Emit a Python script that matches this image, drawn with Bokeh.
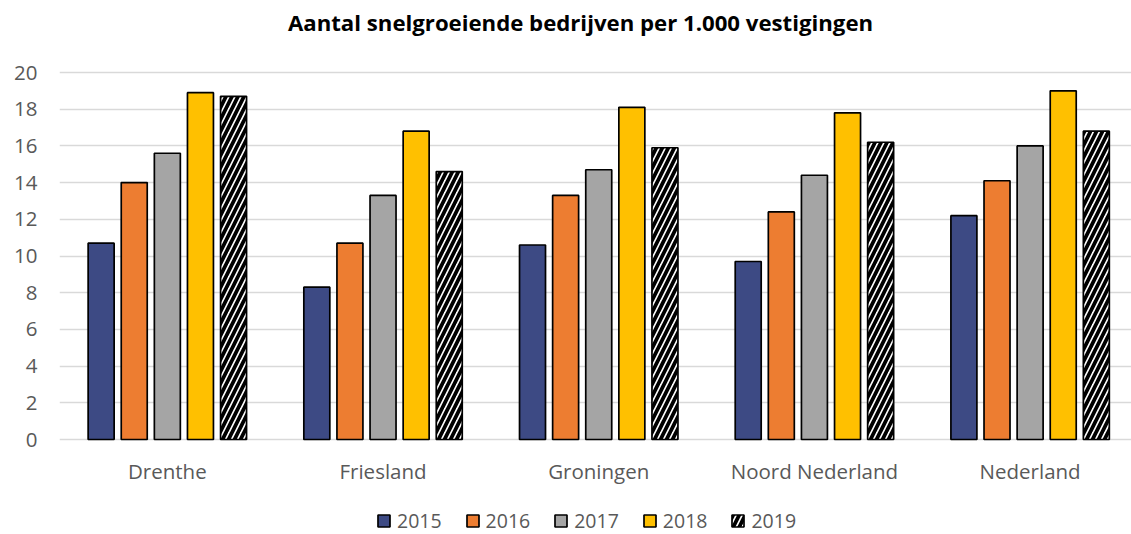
from bokeh.plotting import figure
from bokeh.models import ColumnDataSource, Range1d, Legend, LegendItem, FixedTicker, Label, LabelSet
from bokeh.core.properties import value
from bokeh.transform import dodge
from bokeh.embed import file_html
from bokeh.resources import INLINE

categories = ["Drenthe", "Friesland", "Groningen", "Noord Nederland", "Nederland"]
years = ["2015", "2016", "2017", "2018", "2019"]
v2015 = [10.7, 8.3, 10.6, 9.7, 12.2]
v2016 = [14.0, 10.7, 13.3, 12.4, 14.1]
v2017 = [15.6, 13.3, 14.7, 14.4, 16.0]
v2018 = [18.9, 16.8, 18.1, 17.8, 19.0]
v2019 = [18.7, 14.6, 15.9, 16.2, 16.8]
yticks = [0, 2, 4, 6, 8, 10, 12, 14, 16, 18, 20]
title = "Aantal snelgroeiende bedrijven per 1.000 vestigingen"

colors = ["#3D4A84", "#ED7D31", "#A5A5A5", "#FFC000", "#FFFFFF"]
series = [v2015, v2016, v2017, v2018, v2019]

# frame covers the whole height so the title, category labels and legend can sit inside it
YMIN, YMAX = -5.177, 23.924
LABEL_Y = -1.69
TITLE_Y = 22.72

src = ColumnDataSource(dict(
    x=list(range(len(categories))),
    cat=categories,
    ylab=[LABEL_Y] * len(categories),
    **{"y" + yr: vals for yr, vals in zip(years, series)}
))

p = figure(frame_width=1072, frame_height=534, output_backend="svg", toolbar_location=None,
           x_range=Range1d(-0.5, 4.47), y_range=Range1d(YMIN, YMAX),
           x_axis_location=None,
           min_border_left=59, min_border_right=0, min_border_top=0, min_border_bottom=0)
p.outline_line_color = None
p.background_fill_color = "white"

step = 0.1535
width = 0.1205
items = []
for i, (yr, col) in enumerate(zip(years, colors)):
    kw = {}
    if yr == "2019":
        kw = dict(hatch_pattern="right_diagonal_line", hatch_color="black",
                  hatch_scale=12, hatch_weight=3.8)
    r = p.vbar(x=dodge("x", (i - 2) * step, range=p.x_range), top="y" + yr, width=width,
               bottom=0, source=src, fill_color=col, line_color="black", line_width=1.7, **kw)
    items.append(LegendItem(label=yr, renderers=[r]))

p.yaxis.ticker = FixedTicker(ticks=yticks)
p.yaxis.major_tick_line_color = None
p.yaxis.minor_tick_line_color = None
p.yaxis.major_label_text_font = "Open Sans"
p.yaxis.major_label_text_font_size = "20.5px"
p.yaxis.major_label_text_color = "#595959"
p.yaxis.axis_line_color = None
p.yaxis.major_label_standoff = 16

p.xgrid.grid_line_color = None
p.ygrid.grid_line_color = "#D9D9D9"
p.ygrid.grid_line_width = 1.5
p.ygrid.ticker = FixedTicker(ticks=yticks)

cats = LabelSet(x="x", y="ylab", text="cat", source=src, text_align="center",
                text_baseline="middle", text_font=value("Open Sans"),
                text_font_size=value("20.5px"), text_color="#595959")
p.add_layout(cats)

t = Label(x=(-0.5 + 4.47) / 2, y=TITLE_Y, x_offset=-15, text=title,
          text_align="center", text_baseline="middle", text_font="Open Sans",
          text_font_style="bold", text_font_size="22.2px", text_color="black")
p.add_layout(t)

legend = Legend(items=items, orientation="horizontal", location=(317, 0),
                glyph_width=15, glyph_height=15, label_text_font="Open Sans",
                label_text_font_size="19.5px", label_text_color="#595959",
                spacing=23, label_standoff=6, border_line_color=None,
                background_fill_alpha=0, padding=0, margin=0)
p.add_layout(legend, "center")

open("out.html", "w").write(file_html(p, INLINE))
